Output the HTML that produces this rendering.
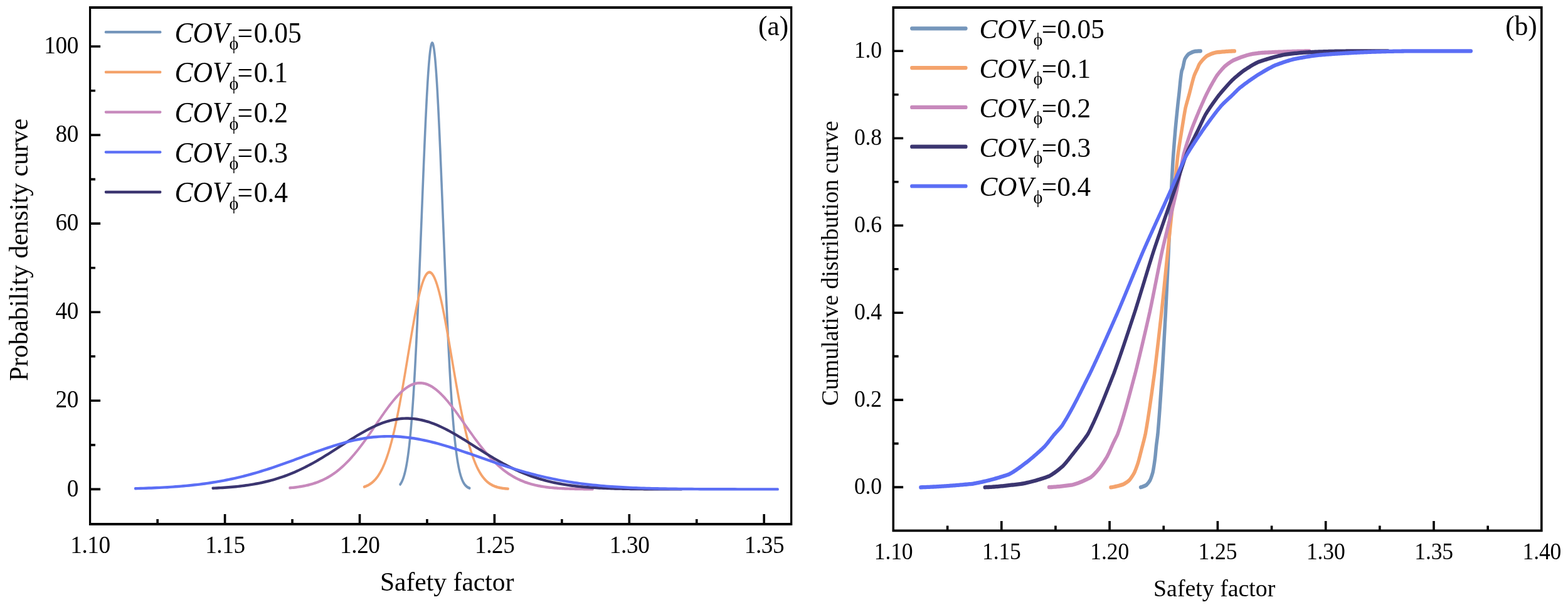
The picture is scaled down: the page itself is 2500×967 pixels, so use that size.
<!DOCTYPE html>
<html lang="en"><head><meta charset="utf-8"><title>Probability density and cumulative distribution curves of safety factor</title>
<style>
html,body{margin:0;padding:0;background:#fff;width:2500px;height:967px;}
svg{display:block;font-family:"Liberation Serif","DejaVu Serif",serif;fill:#000;}
</style></head><body>
<svg width="2500" height="967" viewBox="0 0 2500 967">
<rect width="2500" height="967" fill="#fff"/>
<g id="panel-a">
<path d="M797.62 771.62L798.2 770.96L798.78 770.26L799.35 769.5L799.93 768.68L800.5 767.81L801.08 766.88L801.66 765.88L802.23 764.81L802.81 763.67L803.38 762.45L803.96 761.15L804.54 759.77L805.11 758.29L805.69 756.73L806.26 755.06L806.84 753.29L807.42 751.42L807.99 749.43L808.57 747.32L809.14 745.09L809.72 742.73L810.3 740.24L810.87 737.61L811.45 734.84L812.02 731.92L812.6 728.84L813.18 725.61L813.75 722.2L814.33 718.63L814.9 714.89L815.48 710.96L816.05 706.85L816.63 702.54L817.21 698.04L817.78 693.35L818.36 688.44L818.93 683.33L819.51 678.01L820.09 672.47L820.66 666.71L821.24 660.72L821.81 654.52L822.39 648.08L822.97 641.41L823.54 634.52L824.12 627.38L824.69 620.02L825.27 612.42L825.85 604.59L826.42 596.53L827 588.23L827.57 579.71L828.15 570.96L828.73 561.98L829.3 552.79L829.88 543.38L830.45 533.77L831.03 523.95L831.61 513.93L832.18 503.72L832.76 493.33L833.33 482.77L833.91 472.04L834.49 461.16L835.06 450.14L835.64 438.99L836.21 427.72L836.79 416.34L837.37 404.87L837.94 393.32L838.52 381.71L839.09 370.06L839.67 358.37L840.25 346.67L840.82 334.96L841.4 323.28L841.97 311.64L842.55 300.05L843.13 288.54L843.7 277.12L844.28 265.81L844.85 254.64L845.43 243.62L846.01 232.76L846.58 222.1L847.16 211.65L847.73 201.43L848.31 191.46L848.89 181.76L849.46 172.35L850.04 163.24L850.61 154.45L851.19 146.01L851.77 137.92L852.34 130.21L852.92 122.89L853.49 115.98L854.07 109.49L854.65 103.43L855.22 97.82L855.8 92.67L856.37 87.99L856.95 83.79L857.53 80.08L858.1 76.87L858.68 74.17L859.25 71.97L859.83 70.29L860.41 69.13L860.98 68.49L861.56 68.38L862.13 68.78L862.71 69.68L863.29 71.1L863.86 73.02L864.44 75.44L865.01 78.36L865.59 81.77L866.16 85.66L866.74 90.02L867.32 94.85L867.89 100.13L868.47 105.85L869.04 112.01L869.62 118.58L870.2 125.56L870.77 132.93L871.35 140.68L871.92 148.78L872.5 157.23L873.08 166.01L873.65 175.1L874.23 184.48L874.8 194.14L875.38 204.05L875.96 214.2L876.53 224.57L877.11 235.15L877.68 245.9L878.26 256.82L878.84 267.88L879.41 279.06L879.99 290.36L880.56 301.74L881.14 313.19L881.72 324.69L882.29 336.23L882.87 347.79L883.44 359.35L884.02 370.89L884.6 382.39L885.17 393.86L885.75 405.26L886.32 416.58L886.9 427.81L887.48 438.94L888.05 449.96L888.63 460.84L889.2 471.59L889.78 482.19L890.36 492.63L890.93 502.9L891.51 513L892.08 522.91L892.66 532.63L893.24 542.15L893.81 551.47L894.39 560.58L894.96 569.48L895.54 578.16L896.12 586.62L896.69 594.85L897.27 602.87L897.84 610.65L898.42 618.21L899 625.54L899.57 632.64L900.15 639.51L900.72 646.16L901.3 652.58L901.88 658.78L902.45 664.76L903.03 670.52L903.6 676.07L904.18 681.4L904.76 686.53L905.33 691.45L905.91 696.17L906.48 700.69L907.06 705.02L907.64 709.17L908.21 713.13L908.79 716.91L909.36 720.51L909.94 723.95L910.52 727.23L911.09 730.35L911.67 733.31L912.24 736.13L912.82 738.8L913.4 741.34L913.97 743.74L914.55 746.02L915.12 748.17L915.7 750.2L916.27 752.13L916.85 753.94L917.43 755.65L918 757.26L918.58 758.78L919.15 760.2L919.73 761.54L920.31 762.8L920.88 763.98L921.46 765.09L922.03 766.13L922.61 767.1L923.19 768.01L923.76 768.86L924.34 769.65L924.91 770.39L925.49 771.08L926.07 771.72L926.64 772.32L927.22 772.87L927.79 773.39L928.37 773.87L928.95 774.31L929.52 774.73L930.1 775.11L930.67 775.46L931.25 775.79L931.83 776.09L932.4 776.37L932.98 776.63L933.55 776.87L934.13 777.09L934.71 777.29L935.28 777.47L935.86 777.64" transform="scale(0.8 1)" fill="none" stroke="#7596BB" stroke-width="4.45" stroke-linecap="round" stroke-linejoin="round"/>
<path d="M725.79 775.57L726.99 775.25L728.18 774.89L729.38 774.51L730.57 774.1L731.77 773.67L732.96 773.2L734.16 772.69L735.35 772.16L736.55 771.58L737.74 770.97L738.94 770.31L740.14 769.61L741.33 768.87L742.53 768.08L743.72 767.24L744.92 766.34L746.11 765.39L747.31 764.38L748.5 763.31L749.7 762.18L750.89 760.98L752.09 759.72L753.28 758.38L754.48 756.97L755.67 755.48L756.87 753.92L758.06 752.27L759.26 750.54L760.45 748.72L761.65 746.81L762.84 744.81L764.04 742.71L765.23 740.52L766.43 738.23L767.62 735.83L768.82 733.33L770.01 730.73L771.21 728.01L772.4 725.19L773.6 722.25L774.79 719.2L775.99 716.04L777.19 712.76L778.38 709.36L779.58 705.85L780.77 702.22L781.97 698.47L783.16 694.61L784.36 690.63L785.55 686.53L786.75 682.31L787.94 677.99L789.14 673.55L790.33 669L791.53 664.34L792.72 659.58L793.92 654.72L795.11 649.75L796.31 644.69L797.5 639.55L798.7 634.31L799.89 628.99L801.09 623.6L802.28 618.14L803.48 612.61L804.67 607.03L805.87 601.39L807.06 595.71L808.26 589.99L809.45 584.24L810.65 578.48L811.84 572.69L813.04 566.91L814.23 561.13L815.43 555.36L816.63 549.61L817.82 543.9L819.02 538.23L820.21 532.61L821.41 527.05L822.6 521.56L823.8 516.16L824.99 510.84L826.19 505.63L827.38 500.53L828.58 495.54L829.77 490.69L830.97 485.99L832.16 481.43L833.36 477.03L834.55 472.8L835.75 468.74L836.94 464.88L838.14 461.2L839.33 457.73L840.53 454.47L841.72 451.43L842.92 448.61L844.11 446.02L845.31 443.66L846.5 441.55L847.7 439.68L848.89 438.06L850.09 436.7L851.28 435.59L852.48 434.74L853.68 434.15L854.87 433.83L856.07 433.76L857.26 433.95L858.46 434.39L859.65 435.08L860.85 436.02L862.04 437.2L863.24 438.62L864.43 440.28L865.63 442.18L866.82 444.31L868.02 446.67L869.21 449.25L870.41 452.05L871.6 455.06L872.8 458.27L873.99 461.68L875.19 465.29L876.38 469.07L877.58 473.03L878.77 477.17L879.97 481.46L881.16 485.9L882.36 490.48L883.55 495.2L884.75 500.05L885.94 505.01L887.14 510.07L888.33 515.24L889.53 520.49L890.73 525.83L891.92 531.23L893.12 536.69L894.31 542.2L895.51 547.76L896.7 553.35L897.9 558.97L899.09 564.6L900.29 570.23L901.48 575.87L902.68 581.5L903.87 587.11L905.07 592.7L906.26 598.26L907.46 603.78L908.65 609.25L909.85 614.67L911.04 620.04L912.24 625.34L913.43 630.57L914.63 635.73L915.82 640.81L917.02 645.81L918.21 650.72L919.41 655.54L920.6 660.27L921.8 664.9L922.99 669.42L924.19 673.85L925.38 678.17L926.58 682.38L927.77 686.49L928.97 690.49L930.17 694.37L931.36 698.15L932.56 701.81L933.75 705.36L934.95 708.8L936.14 712.13L937.34 715.35L938.53 718.46L939.73 721.46L940.92 724.35L942.12 727.14L943.31 729.82L944.51 732.39L945.7 734.87L946.9 737.24L948.09 739.52L949.29 741.7L950.48 743.79L951.68 745.79L952.87 747.7L954.07 749.52L955.26 751.25L956.46 752.91L957.65 754.49L958.85 755.98L960.04 757.41L961.24 758.76L962.43 760.05L963.63 761.26L964.82 762.42L966.02 763.51L967.22 764.54L968.41 765.51L969.61 766.43L970.8 767.3L972 768.12L973.19 768.89L974.39 769.62L975.58 770.3L976.78 770.94L977.97 771.54L979.17 772.1L980.36 772.63L981.56 773.12L982.75 773.59L983.95 774.02L985.14 774.42L986.34 774.8L987.53 775.15L988.73 775.48L989.92 775.78L991.12 776.07L992.31 776.33L993.51 776.57L994.7 776.8L995.9 777.01L997.09 777.21L998.29 777.39L999.48 777.55L1000.68 777.71L1001.87 777.85L1003.07 777.98L1004.27 778.1L1005.46 778.22L1006.66 778.32L1007.85 778.41L1009.05 778.5L1010.24 778.58L1011.44 778.65L1012.63 778.72" transform="scale(0.8 1)" fill="none" stroke="#F4A36C" stroke-width="4.45" stroke-linecap="round" stroke-linejoin="round"/>
<path d="M577.62 777.27L580.14 777.08L582.65 776.88L585.17 776.66L587.68 776.43L590.2 776.18L592.71 775.91L595.23 775.62L597.75 775.31L600.26 774.97L602.78 774.62L605.29 774.24L607.81 773.84L610.32 773.4L612.84 772.95L615.35 772.46L617.87 771.94L620.39 771.38L622.9 770.8L625.42 770.18L627.93 769.52L630.45 768.82L632.96 768.09L635.48 767.31L638 766.49L640.51 765.63L643.03 764.72L645.54 763.76L648.06 762.76L650.57 761.7L653.09 760.6L655.61 759.44L658.12 758.22L660.64 756.96L663.15 755.63L665.67 754.25L668.18 752.81L670.7 751.31L673.22 749.75L675.73 748.13L678.25 746.45L680.76 744.7L683.28 742.9L685.79 741.03L688.31 739.1L690.83 737.11L693.34 735.05L695.86 732.94L698.37 730.76L700.89 728.52L703.4 726.23L705.92 723.88L708.43 721.47L710.95 719L713.47 716.48L715.98 713.92L718.5 711.3L721.01 708.64L723.53 705.93L726.04 703.18L728.56 700.4L731.08 697.58L733.59 694.73L736.11 691.86L738.62 688.96L741.14 686.04L743.65 683.11L746.17 680.16L748.69 677.21L751.2 674.27L753.72 671.32L756.23 668.38L758.75 665.46L761.26 662.56L763.78 659.68L766.3 656.84L768.81 654.02L771.33 651.25L773.84 648.53L776.36 645.86L778.87 643.25L781.39 640.7L783.9 638.22L786.42 635.81L788.94 633.49L791.45 631.24L793.97 629.09L796.48 627.03L799 625.07L801.51 623.22L804.03 621.47L806.55 619.84L809.06 618.32L811.58 616.92L814.09 615.64L816.61 614.49L819.12 613.47L821.64 612.58L824.16 611.83L826.67 611.21L829.19 610.72L831.7 610.38L834.22 610.17L836.73 610.1L839.25 610.17L841.77 610.37L844.28 610.7L846.8 611.16L849.31 611.75L851.83 612.47L854.34 613.31L856.86 614.28L859.38 615.37L861.89 616.58L864.41 617.91L866.92 619.34L869.44 620.89L871.95 622.55L874.47 624.31L876.98 626.17L879.5 628.12L882.02 630.17L884.53 632.3L887.05 634.51L889.56 636.8L892.08 639.17L894.59 641.6L897.11 644.1L899.63 646.65L902.14 649.25L904.66 651.91L907.17 654.61L909.69 657.34L912.2 660.11L914.72 662.9L917.24 665.72L919.75 668.56L922.27 671.41L924.78 674.26L927.3 677.12L929.81 679.99L932.33 682.84L934.85 685.69L937.36 688.52L939.88 691.34L942.39 694.13L944.91 696.9L947.42 699.65L949.94 702.36L952.46 705.03L954.97 707.67L957.49 710.27L960 712.83L962.52 715.34L965.03 717.81L967.55 720.22L970.06 722.59L972.58 724.9L975.1 727.16L977.61 729.37L980.13 731.52L982.64 733.61L985.16 735.65L987.67 737.62L990.19 739.54L992.71 741.4L995.22 743.2L997.74 744.95L1000.25 746.63L1002.77 748.26L1005.28 749.83L1007.8 751.34L1010.32 752.79L1012.83 754.19L1015.35 755.53L1017.86 756.82L1020.38 758.06L1022.89 759.25L1025.41 760.38L1027.93 761.46L1030.44 762.5L1032.96 763.49L1035.47 764.43L1037.99 765.32L1040.5 766.18L1043.02 766.99L1045.54 767.76L1048.05 768.49L1050.57 769.18L1053.08 769.84L1055.6 770.46L1058.11 771.05L1060.63 771.6L1063.14 772.13L1065.66 772.62L1068.18 773.09L1070.69 773.53L1073.21 773.94L1075.72 774.32L1078.24 774.69L1080.75 775.03L1083.27 775.35L1085.79 775.64L1088.3 775.92L1090.82 776.19L1093.33 776.43L1095.85 776.66L1098.36 776.87L1100.88 777.07L1103.4 777.25L1105.91 777.42L1108.43 777.58L1110.94 777.73L1113.46 777.86L1115.97 777.99L1118.49 778.11L1121.01 778.21L1123.52 778.31L1126.04 778.41L1128.55 778.49L1131.07 778.57L1133.58 778.64L1136.1 778.71L1138.61 778.77L1141.13 778.83L1143.65 778.88L1146.16 778.93L1148.68 778.97L1151.19 779.01L1153.71 779.05L1156.22 779.08L1158.74 779.11L1161.26 779.14L1163.77 779.16L1166.29 779.18L1168.8 779.21L1171.32 779.22L1173.83 779.24L1176.35 779.26L1178.87 779.27L1181.38 779.28" transform="scale(0.8 1)" fill="none" stroke="#C789BC" stroke-width="4.45" stroke-linecap="round" stroke-linejoin="round"/>
<path d="M424.02 777.79L427.91 777.65L431.81 777.49L435.7 777.33L439.59 777.15L443.49 776.96L447.38 776.75L451.27 776.53L455.16 776.29L459.06 776.04L462.95 775.77L466.84 775.48L470.74 775.18L474.63 774.85L478.52 774.5L482.42 774.13L486.31 773.73L490.2 773.31L494.09 772.87L497.99 772.4L501.88 771.9L505.77 771.37L509.67 770.82L513.56 770.23L517.45 769.61L521.35 768.96L525.24 768.27L529.13 767.55L533.03 766.8L536.92 766.01L540.81 765.17L544.7 764.31L548.6 763.4L552.49 762.45L556.38 761.46L560.28 760.43L564.17 759.36L568.06 758.24L571.96 757.09L575.85 755.89L579.74 754.64L583.63 753.36L587.53 752.03L591.42 750.65L595.31 749.24L599.21 747.78L603.1 746.28L606.99 744.74L610.89 743.15L614.78 741.53L618.67 739.87L622.57 738.17L626.46 736.44L630.35 734.67L634.24 732.87L638.14 731.03L642.03 729.17L645.92 727.29L649.82 725.37L653.71 723.44L657.6 721.48L661.5 719.51L665.39 717.53L669.28 715.53L673.18 713.53L677.07 711.52L680.96 709.52L684.85 707.51L688.75 705.51L692.64 703.52L696.53 701.55L700.43 699.59L704.32 697.65L708.21 695.74L712.11 693.85L716 692L719.89 690.19L723.78 688.41L727.68 686.68L731.57 685L735.46 683.37L739.36 681.8L743.25 680.29L747.14 678.84L751.04 677.45L754.93 676.14L758.82 674.9L762.72 673.73L766.61 672.65L770.5 671.65L774.39 670.73L778.29 669.89L782.18 669.15L786.07 668.49L789.97 667.93L793.86 667.46L797.75 667.09L801.65 666.81L805.54 666.63L809.43 666.54L813.32 666.55L817.22 666.66L821.11 666.86L825 667.15L828.9 667.54L832.79 668.01L836.68 668.58L840.58 669.24L844.47 669.98L848.36 670.81L852.26 671.72L856.15 672.72L860.04 673.79L863.93 674.94L867.83 676.16L871.72 677.45L875.61 678.81L879.51 680.24L883.4 681.73L887.29 683.27L891.19 684.87L895.08 686.52L898.97 688.22L902.86 689.96L906.76 691.74L910.65 693.55L914.54 695.4L918.44 697.28L922.33 699.18L926.22 701.11L930.12 703.05L934.01 705L937.9 706.97L941.8 708.94L945.69 710.92L949.58 712.89L953.47 714.86L957.37 716.83L961.26 718.79L965.15 720.73L969.05 722.66L972.94 724.57L976.83 726.47L980.73 728.33L984.62 730.18L988.51 731.99L992.41 733.78L996.3 735.54L1000.19 737.26L1004.08 738.95L1007.98 740.61L1011.87 742.23L1015.76 743.81L1019.66 745.35L1023.55 746.85L1027.44 748.31L1031.34 749.73L1035.23 751.11L1039.12 752.45L1043.01 753.75L1046.91 755L1050.8 756.21L1054.69 757.38L1058.59 758.51L1062.48 759.6L1066.37 760.64L1070.27 761.65L1074.16 762.62L1078.05 763.54L1081.95 764.43L1085.84 765.28L1089.73 766.09L1093.62 766.87L1097.52 767.61L1101.41 768.32L1105.3 768.99L1109.2 769.63L1113.09 770.24L1116.98 770.81L1120.88 771.36L1124.77 771.88L1128.66 772.37L1132.55 772.84L1136.45 773.28L1140.34 773.69L1144.23 774.08L1148.13 774.45L1152.02 774.8L1155.91 775.12L1159.81 775.43L1163.7 775.72L1167.59 775.99L1171.49 776.24L1175.38 776.47L1179.27 776.7L1183.16 776.9L1187.06 777.09L1190.95 777.27L1194.84 777.44L1198.74 777.6L1202.63 777.74L1206.52 777.87L1210.42 778L1214.31 778.11L1218.2 778.22L1222.09 778.32L1225.99 778.41L1229.88 778.5L1233.77 778.57L1237.67 778.65L1241.56 778.71L1245.45 778.77L1249.35 778.83L1253.24 778.88L1257.13 778.93L1261.03 778.97L1264.92 779.01L1268.81 779.05L1272.7 779.08L1276.6 779.11L1280.49 779.14L1284.38 779.16L1288.28 779.19L1292.17 779.21L1296.06 779.23L1299.96 779.24L1303.85 779.26L1307.74 779.27L1311.63 779.29L1315.53 779.3L1319.42 779.31L1323.31 779.32L1327.21 779.33L1331.1 779.33L1334.99 779.34L1338.89 779.35L1342.78 779.35L1346.67 779.36L1350.57 779.36L1354.46 779.37L1358.35 779.37" transform="scale(0.8 1)" fill="none" stroke="#3B3570" stroke-width="4.45" stroke-linecap="round" stroke-linejoin="round"/>
<path d="M269.61 778.23L274.95 778.12L280.29 778L285.62 777.87L290.96 777.73L296.29 777.58L301.63 777.41L306.96 777.24L312.3 777.05L317.63 776.85L322.97 776.63L328.31 776.4L333.64 776.16L338.98 775.89L344.31 775.61L349.65 775.31L354.98 774.98L360.32 774.64L365.65 774.28L370.99 773.89L376.33 773.48L381.66 773.05L387 772.59L392.33 772.1L397.67 771.59L403 771.05L408.34 770.48L413.67 769.88L419.01 769.25L424.35 768.58L429.68 767.89L435.02 767.16L440.35 766.4L445.69 765.61L451.02 764.78L456.36 763.91L461.69 763.01L467.03 762.08L472.37 761.11L477.7 760.1L483.04 759.06L488.37 757.98L493.71 756.86L499.04 755.71L504.38 754.53L509.71 753.31L515.05 752.05L520.39 750.77L525.72 749.45L531.06 748.1L536.39 746.73L541.73 745.32L547.06 743.89L552.4 742.43L557.73 740.95L563.07 739.45L568.41 737.93L573.74 736.4L579.08 734.84L584.41 733.28L589.75 731.71L595.08 730.13L600.42 728.55L605.75 726.97L611.09 725.39L616.43 723.82L621.76 722.25L627.1 720.7L632.43 719.17L637.77 717.65L643.1 716.15L648.44 714.68L653.77 713.24L659.11 711.83L664.45 710.46L669.78 709.13L675.12 707.84L680.45 706.6L685.79 705.4L691.12 704.26L696.46 703.17L701.8 702.15L707.13 701.18L712.47 700.27L717.8 699.44L723.14 698.67L728.47 697.97L733.81 697.34L739.14 696.79L744.48 696.32L749.82 695.92L755.15 695.6L760.49 695.36L765.82 695.2L771.16 695.11L776.49 695.11L781.83 695.19L787.16 695.33L792.5 695.55L797.84 695.84L803.17 696.2L808.51 696.63L813.84 697.13L819.18 697.69L824.51 698.33L829.85 699.02L835.18 699.78L840.52 700.6L845.86 701.48L851.19 702.42L856.53 703.41L861.86 704.45L867.2 705.54L872.53 706.68L877.87 707.87L883.2 709.09L888.54 710.35L893.88 711.65L899.21 712.98L904.55 714.35L909.88 715.74L915.22 717.15L920.55 718.58L925.89 720.04L931.22 721.5L936.56 722.98L941.9 724.47L947.23 725.97L952.57 727.47L957.9 728.97L963.24 730.47L968.57 731.97L973.91 733.46L979.24 734.94L984.58 736.42L989.92 737.88L995.25 739.32L1000.59 740.75L1005.92 742.16L1011.26 743.54L1016.59 744.91L1021.93 746.25L1027.26 747.57L1032.6 748.86L1037.94 750.13L1043.27 751.36L1048.61 752.57L1053.94 753.75L1059.28 754.9L1064.61 756.01L1069.95 757.1L1075.28 758.15L1080.62 759.17L1085.96 760.16L1091.29 761.11L1096.63 762.04L1101.96 762.93L1107.3 763.79L1112.63 764.61L1117.97 765.41L1123.3 766.17L1128.64 766.9L1133.98 767.61L1139.31 768.28L1144.65 768.92L1149.98 769.54L1155.32 770.12L1160.65 770.68L1165.99 771.21L1171.32 771.72L1176.66 772.2L1182 772.66L1187.33 773.09L1192.67 773.5L1198 773.89L1203.34 774.26L1208.67 774.61L1214.01 774.93L1219.34 775.24L1224.68 775.53L1230.02 775.81L1235.35 776.06L1240.69 776.31L1246.02 776.53L1251.36 776.74L1256.69 776.94L1262.03 777.13L1267.36 777.3L1272.7 777.46L1278.04 777.61L1283.37 777.76L1288.71 777.89L1294.04 778.01L1299.38 778.12L1304.71 778.23L1310.05 778.32L1315.38 778.41L1320.72 778.5L1326.06 778.57L1331.39 778.64L1336.73 778.71L1342.06 778.77L1347.4 778.83L1352.73 778.88L1358.07 778.92L1363.41 778.97L1368.74 779.01L1374.08 779.04L1379.41 779.08L1384.75 779.11L1390.08 779.13L1395.42 779.16L1400.75 779.18L1406.09 779.2L1411.43 779.22L1416.76 779.24L1422.1 779.26L1427.43 779.27L1432.77 779.28L1438.1 779.3L1443.44 779.31L1448.77 779.32L1454.11 779.32L1459.45 779.33L1464.78 779.34L1470.12 779.35L1475.45 779.35L1480.79 779.36L1486.12 779.36L1491.46 779.37L1496.79 779.37L1502.13 779.37L1507.47 779.38L1512.8 779.38L1518.14 779.38L1523.47 779.38L1528.81 779.39L1534.14 779.39L1539.48 779.39L1544.81 779.39L1550.15 779.39" transform="scale(0.8 1)" fill="none" stroke="#5B6EF5" stroke-width="4.45" stroke-linecap="round" stroke-linejoin="round"/>
<path d="M141.95 9.9H1263.3V13.9H141.95ZM141.95 832.9H1263.3V836.9H141.95ZM141.95 9.9H145.2V836.9H141.95ZM1260 9.9H1263.3V836.9H1260ZM356.8 819H360.4V833.4H356.8ZM571.7 819H575.3V833.4H571.7ZM786.6 819H790.2V833.4H786.6ZM1001.5 819H1005.1V833.4H1001.5ZM1216.4 819H1220V833.4H1216.4ZM249.35 826.9H252.95V833.4H249.35ZM464.25 826.9H467.85V833.4H464.25ZM679.15 826.9H682.75V833.4H679.15ZM894.05 826.9H897.65V833.4H894.05ZM1108.95 826.9H1112.55V833.4H1108.95ZM144.7 777.6H160.1V781.2H144.7ZM144.7 636.52H160.1V640.12H144.7ZM144.7 495.44H160.1V499.04H144.7ZM144.7 354.36H160.1V357.96H144.7ZM144.7 213.28H160.1V216.88H144.7ZM144.7 72.2H160.1V75.8H144.7ZM144.7 707.06H152V710.66H144.7ZM144.7 565.98H152V569.58H144.7ZM144.7 424.9H152V428.5H144.7ZM144.7 283.82H152V287.42H144.7ZM144.7 142.74H152V146.34H144.7Z" fill="#000"/>
<text transform="translate(144 880.7) scale(0.955 1)" font-size="39.0" text-anchor="middle" letter-spacing="-0.45">1.10</text>
<text transform="translate(358.9 880.7) scale(0.955 1)" font-size="39.0" text-anchor="middle" letter-spacing="-0.45">1.15</text>
<text transform="translate(573.8 880.7) scale(0.955 1)" font-size="39.0" text-anchor="middle" letter-spacing="-0.45">1.20</text>
<text transform="translate(788.7 880.7) scale(0.955 1)" font-size="39.0" text-anchor="middle" letter-spacing="-0.45">1.25</text>
<text transform="translate(1003.6 880.7) scale(0.955 1)" font-size="39.0" text-anchor="middle" letter-spacing="-0.45">1.30</text>
<text transform="translate(1218.5 880.7) scale(0.955 1)" font-size="39.0" text-anchor="middle" letter-spacing="-0.45">1.35</text>
<text transform="translate(124.9 790.5) scale(0.955 1)" font-size="39.0" text-anchor="end" letter-spacing="-0.45">0</text>
<text transform="translate(124.9 649.42) scale(0.955 1)" font-size="39.0" text-anchor="end" letter-spacing="-0.45">20</text>
<text transform="translate(124.9 508.34) scale(0.955 1)" font-size="39.0" text-anchor="end" letter-spacing="-0.45">40</text>
<text transform="translate(124.9 367.26) scale(0.955 1)" font-size="39.0" text-anchor="end" letter-spacing="-0.45">60</text>
<text transform="translate(124.9 226.18) scale(0.955 1)" font-size="39.0" text-anchor="end" letter-spacing="-0.45">80</text>
<text transform="translate(124.9 85.1) scale(0.955 1)" font-size="39.0" text-anchor="end" letter-spacing="-0.45">100</text>
<text transform="translate(712.7 940.6)" font-size="41.6" text-anchor="middle">Safety factor</text>
<text transform="translate(43.7 398) rotate(-90)" font-size="41.6" text-anchor="middle">Probability density curve</text>
<text transform="translate(1209 56.4) scale(0.985 1)" font-size="44.0" text-anchor="start">(a)</text>
<path d="M210.62 51.2L319.62 51.2" transform="scale(0.8 1)" fill="none" stroke="#7596BB" stroke-width="4.3" stroke-linecap="round" stroke-linejoin="round"/>
<text transform="translate(278.4 67.6) scale(0.9385 1)" font-size="46.4"><tspan font-style="italic">COV</tspan><tspan font-size="30" dx="0" dy="11.5">ϕ</tspan><tspan dx="-2.0" dy="-11.5">=</tspan><tspan dx="1.8">0.05</tspan></text>
<path d="M210.62 114.9L319.62 114.9" transform="scale(0.8 1)" fill="none" stroke="#F4A36C" stroke-width="4.3" stroke-linecap="round" stroke-linejoin="round"/>
<text transform="translate(278.4 131.3) scale(0.9385 1)" font-size="46.4"><tspan font-style="italic">COV</tspan><tspan font-size="30" dx="0" dy="11.5">ϕ</tspan><tspan dx="-2.0" dy="-11.5">=</tspan><tspan dx="1.8">0.1</tspan></text>
<path d="M210.62 178.6L319.62 178.6" transform="scale(0.8 1)" fill="none" stroke="#C789BC" stroke-width="4.3" stroke-linecap="round" stroke-linejoin="round"/>
<text transform="translate(278.4 195) scale(0.9385 1)" font-size="46.4"><tspan font-style="italic">COV</tspan><tspan font-size="30" dx="0" dy="11.5">ϕ</tspan><tspan dx="-2.0" dy="-11.5">=</tspan><tspan dx="1.8">0.2</tspan></text>
<path d="M210.62 242.3L319.62 242.3" transform="scale(0.8 1)" fill="none" stroke="#5B6EF5" stroke-width="4.3" stroke-linecap="round" stroke-linejoin="round"/>
<text transform="translate(278.4 258.7) scale(0.9385 1)" font-size="46.4"><tspan font-style="italic">COV</tspan><tspan font-size="30" dx="0" dy="11.5">ϕ</tspan><tspan dx="-2.0" dy="-11.5">=</tspan><tspan dx="1.8">0.3</tspan></text>
<path d="M210.62 306L319.62 306" transform="scale(0.8 1)" fill="none" stroke="#3B3570" stroke-width="4.3" stroke-linecap="round" stroke-linejoin="round"/>
<text transform="translate(278.4 322.4) scale(0.9385 1)" font-size="46.4"><tspan font-style="italic">COV</tspan><tspan font-size="30" dx="0" dy="11.5">ϕ</tspan><tspan dx="-2.0" dy="-11.5">=</tspan><tspan dx="1.8">0.4</tspan></text>
</g>
<g id="panel-b">
<path d="M2078.4 776.3L2080.7 775.75L2082.92 775.08L2085.04 774.32L2087.07 773.48L2088.57 772.8L2088.92 772.53L2090.49 771.15L2092 769.61L2093.43 767.97L2094.75 766.29L2095.54 765.2L2095.85 764.58L2096.71 762.76L2097.53 760.9L2098.3 759L2099.03 757.08L2099.72 755.15L2100.36 753.22L2100.69 752.2L2100.89 751.29L2101.31 749.33L2101.71 747.37L2102.1 745.4L2102.47 743.43L2102.83 741.45L2103.17 739.46L2103.51 737.48L2103.83 735.5L2104.15 733.51L2104.46 731.53L2104.69 730.1L2104.76 729.54L2105 727.56L2105.24 725.57L2105.46 723.58L2105.68 721.59L2105.9 719.6L2106.12 717.6L2106.34 715.61L2106.56 713.62L2106.79 711.63L2106.97 710.1L2107.03 709.64L2107.31 707.66L2107.6 705.67L2107.89 703.69L2108.19 701.71L2108.49 699.72L2108.79 697.74L2109.07 695.76L2109.35 693.77L2109.62 691.79L2109.71 691L2109.83 689.8L2110.03 687.8L2110.22 685.81L2110.41 683.82L2110.6 681.83L2110.79 679.84L2110.97 677.84L2111.16 675.85L2111.34 673.86L2111.52 671.86L2111.69 669.87L2111.87 667.88L2112.04 665.88L2112.22 663.89L2112.39 661.9L2112.56 659.9L2112.72 657.91L2112.89 655.91L2113.05 653.92L2113.22 651.92L2113.38 649.93L2113.54 647.93L2113.7 645.93L2113.86 643.94L2114.02 641.94L2114.17 639.95L2114.33 637.95L2114.49 635.96L2114.64 633.96L2114.79 631.96L2114.95 629.97L2115.1 627.97L2115.25 625.98L2115.41 623.98L2115.56 621.98L2115.71 619.99L2115.86 617.99L2116.01 615.99L2116.16 614L2116.31 612L2116.46 610.01L2116.61 608.01L2116.76 606.01L2116.91 604.02L2117.07 602.02L2117.22 600.03L2117.37 598.03L2117.52 596.04L2117.6 595L2117.67 594.04L2117.81 592.04L2117.94 590.05L2118.08 588.05L2118.22 586.06L2118.36 584.06L2118.49 582.06L2118.63 580.07L2118.77 578.07L2118.9 576.07L2119.04 574.08L2119.17 572.08L2119.3 570.08L2119.44 568.09L2119.57 566.09L2119.7 564.09L2119.84 562.1L2119.97 560.1L2120.1 558.1L2120.23 556.11L2120.36 554.11L2120.5 552.11L2120.63 550.12L2120.76 548.12L2120.89 546.12L2121.02 544.13L2121.15 542.13L2121.27 540.13L2121.4 538.14L2121.53 536.14L2121.66 534.14L2121.79 532.15L2121.92 530.15L2122.04 528.15L2122.17 526.15L2122.3 524.16L2122.42 522.16L2122.55 520.16L2122.68 518.17L2122.8 516.17L2122.93 514.17L2123.05 512.18L2123.18 510.18L2123.3 508.18L2123.43 506.18L2123.55 504.19L2123.68 502.19L2123.8 500.19L2123.93 498.2L2124 497L2124.05 496.2L2124.16 494.2L2124.28 492.2L2124.39 490.21L2124.51 488.21L2124.62 486.21L2124.74 484.21L2124.85 482.22L2124.96 480.22L2125.08 478.22L2125.19 476.22L2125.3 474.23L2125.42 472.23L2125.53 470.23L2125.64 468.23L2125.75 466.24L2125.86 464.24L2125.98 462.24L2126.09 460.24L2126.2 458.25L2126.31 456.25L2126.42 454.25L2126.53 452.25L2126.64 450.26L2126.75 448.26L2126.86 446.26L2126.97 444.26L2127.08 442.26L2127.19 440.27L2127.3 438.27L2127.41 436.27L2127.52 434.27L2127.62 432.28L2127.73 430.28L2127.84 428.28L2127.95 426.28L2128.06 424.29L2128.17 422.29L2128.28 420.29L2128.38 418.29L2128.49 416.29L2128.6 414.3L2128.71 412.3L2128.82 410.3L2128.92 408.3L2129.03 406.31L2129.14 404.31L2129.25 402.31L2129.35 400.31L2129.37 400L2129.46 398.31L2129.56 396.32L2129.66 394.32L2129.77 392.32L2129.87 390.32L2129.97 388.32L2130.07 386.33L2130.17 384.33L2130.27 382.33L2130.37 380.33L2130.47 378.33L2130.57 376.34L2130.67 374.34L2130.77 372.34L2130.87 370.34L2130.97 368.34L2131.07 366.34L2131.17 364.35L2131.26 362.35L2131.36 360.35L2131.46 358.35L2131.56 356.35L2131.66 354.36L2131.76 352.36L2131.86 350.36L2131.95 348.36L2132.05 346.36L2132.15 344.36L2132.25 342.37L2132.35 340.37L2132.45 338.37L2132.55 336.37L2132.65 334.37L2132.75 332.38L2132.85 330.38L2132.95 328.38L2133.06 326.38L2133.16 324.38L2133.26 322.39L2133.36 320.39L2133.47 318.39L2133.57 316.39L2133.68 314.39L2133.78 312.4L2133.89 310.4L2133.99 308.4L2134.1 306.4L2134.21 304.41L2134.29 303L2134.32 302.41L2134.44 300.41L2134.56 298.41L2134.68 296.42L2134.8 294.42L2134.92 292.42L2135.04 290.42L2135.16 288.43L2135.28 286.43L2135.41 284.43L2135.53 282.44L2135.65 280.44L2135.78 278.44L2135.9 276.44L2136.03 274.45L2136.16 272.45L2136.29 270.45L2136.42 268.46L2136.55 266.46L2136.68 264.46L2136.81 262.47L2136.95 260.47L2137.09 258.47L2137.22 256.48L2137.26 256L2137.38 254.48L2137.54 252.49L2137.7 250.49L2137.87 248.5L2138.04 246.5L2138.2 244.51L2138.37 242.52L2138.55 240.52L2138.72 238.53L2138.89 236.53L2139.07 234.54L2139.25 232.54L2139.43 230.55L2139.61 228.56L2139.79 226.56L2139.97 224.57L2140.15 222.57L2140.34 220.58L2140.52 218.59L2140.71 216.59L2140.9 214.6L2141.08 212.61L2141.27 210.61L2141.46 208.62L2141.65 206.63L2141.71 206L2141.86 204.64L2142.07 202.65L2142.29 200.66L2142.51 198.66L2142.72 196.67L2142.95 194.68L2143.17 192.69L2143.39 190.7L2143.62 188.71L2143.85 186.72L2144.07 184.73L2144.3 182.74L2144.53 180.75L2144.77 178.76L2145 176.77L2145.23 174.78L2145.47 172.79L2145.71 170.8L2145.94 168.81L2146.18 166.83L2146.4 165L2146.42 164.84L2146.68 162.85L2146.94 160.86L2147.2 158.88L2147.46 156.89L2147.73 154.9L2147.99 152.92L2148.11 152L2148.25 150.93L2148.5 148.94L2148.75 146.94L2148.98 144.95L2149.21 142.95L2149.43 140.95L2149.66 138.94L2149.88 136.94L2150.11 134.94L2150.33 132.94L2150.57 130.94L2150.81 128.95L2151.06 126.96L2151.32 124.97L2151.6 122.99L2151.89 121.01L2152.19 119.04L2152.51 117.08L2152.86 115.12L2153.22 113.18L2153.26 113L2153.94 111.29L2154.8 109.43L2154.97 109L2155.42 107.5L2155.94 105.54L2156.41 103.55L2156.88 101.56L2157.35 99.59L2157.85 97.64L2158.41 95.73L2158.97 94.1L2159.1 93.9L2160.24 92.19L2161.54 90.48L2162.97 88.83L2164.48 87.3L2165.83 86.1L2166.05 85.98L2167.98 85.03L2170.04 84.11L2172.19 83.27L2174.38 82.53L2176.56 81.95L2177.26 81.8L2178.77 81.7L2181.03 81.56L2183.31 81.44L2185.62 81.35L2187.66 81.3" transform="scale(0.875 1)" fill="none" stroke="#7596BB" stroke-width="6.3" stroke-linecap="round" stroke-linejoin="round"/>
<path d="M2024 776.3L2026.33 776.06L2028.64 775.75L2030.92 775.38L2033.18 774.96L2035.42 774.5L2037.63 774L2039.82 773.47L2041.99 772.92L2044.14 772.35L2046.17 771.8L2046.26 771.76L2048.25 770.86L2050.24 769.84L2052.2 768.74L2054.11 767.57L2055.95 766.36L2057.6 765.2L2057.67 765.12L2059.09 763.62L2060.46 762.04L2061.79 760.39L2063.08 758.7L2064.32 756.98L2065.51 755.25L2066.65 753.52L2066.86 753.2L2067.59 751.73L2068.46 749.89L2069.31 748.03L2070.12 746.16L2070.91 744.27L2071.69 742.38L2072.44 740.48L2073.18 738.58L2073.71 737.2L2073.88 736.69L2074.51 734.76L2075.11 732.84L2075.7 730.91L2076.27 728.97L2076.84 727.03L2077.4 725.09L2077.96 723.15L2078.52 721.21L2079.08 719.27L2079.43 718.1L2079.65 717.33L2080.22 715.39L2080.8 713.46L2081.38 711.52L2081.96 709.58L2082.53 707.65L2083.11 705.71L2083.68 703.77L2084.25 701.83L2084.81 699.89L2085.36 697.95L2085.89 696.01L2086.41 694.06L2086.92 692.12L2087.2 691L2087.37 690.16L2087.76 688.2L2088.16 686.23L2088.54 684.26L2088.92 682.29L2089.3 680.32L2089.68 678.35L2090.05 676.38L2090.42 674.41L2090.79 672.44L2091.15 670.47L2091.51 668.49L2091.87 666.52L2092.22 664.54L2092.57 662.57L2092.92 660.59L2093.26 658.61L2093.61 656.64L2093.95 654.66L2094.29 652.68L2094.62 650.7L2094.96 648.72L2095.29 646.74L2095.62 644.76L2095.95 642.78L2096.27 640.8L2096.6 638.81L2096.92 636.83L2097.24 634.85L2097.56 632.87L2097.88 630.89L2098.2 628.9L2098.52 626.92L2098.83 624.94L2099.15 622.96L2099.46 620.97L2099.77 618.99L2100.09 617.01L2100.4 615.02L2100.71 613.04L2101.02 611.06L2101.33 609.08L2101.64 607.09L2101.95 605.11L2102.26 603.13L2102.58 601.15L2102.89 599.17L2103.2 597.18L2103.51 595.2L2103.54 595L2103.8 593.22L2104.08 591.24L2104.36 589.25L2104.64 587.27L2104.92 585.28L2105.19 583.3L2105.47 581.31L2105.75 579.33L2106.02 577.34L2106.29 575.36L2106.57 573.37L2106.84 571.38L2107.11 569.4L2107.38 567.41L2107.65 565.43L2107.92 563.44L2108.18 561.45L2108.45 559.47L2108.72 557.48L2108.98 555.49L2109.25 553.51L2109.51 551.52L2109.77 549.53L2110.04 547.55L2110.3 545.56L2110.56 543.57L2110.82 541.59L2111.08 539.6L2111.34 537.61L2111.6 535.62L2111.86 533.64L2112.12 531.65L2112.38 529.66L2112.63 527.67L2112.89 525.69L2113.15 523.7L2113.4 521.71L2113.66 519.72L2113.92 517.74L2114.17 515.75L2114.43 513.76L2114.68 511.77L2114.94 509.79L2115.19 507.8L2115.45 505.81L2115.7 503.82L2115.95 501.84L2116.21 499.85L2116.46 497.86L2116.57 497L2116.71 495.87L2116.95 493.88L2117.19 491.9L2117.43 489.91L2117.66 487.92L2117.9 485.93L2118.14 483.94L2118.37 481.95L2118.61 479.96L2118.84 477.97L2119.08 475.98L2119.31 473.99L2119.55 472L2119.78 470.01L2120.01 468.02L2120.24 466.03L2120.47 464.04L2120.7 462.05L2120.94 460.06L2121.17 458.07L2121.4 456.08L2121.63 454.09L2121.86 452.1L2122.09 450.11L2122.31 448.12L2122.54 446.13L2122.77 444.14L2123 442.15L2123.23 440.16L2123.46 438.17L2123.69 436.18L2123.92 434.19L2124.15 432.2L2124.38 430.21L2124.61 428.23L2124.83 426.24L2125.06 424.25L2125.29 422.26L2125.52 420.27L2125.75 418.28L2125.98 416.29L2126.22 414.3L2126.45 412.31L2126.68 410.32L2126.91 408.33L2127.14 406.34L2127.38 404.35L2127.61 402.36L2127.84 400.37L2127.89 400L2128.08 398.38L2128.32 396.39L2128.55 394.4L2128.79 392.41L2129.03 390.42L2129.27 388.43L2129.5 386.44L2129.74 384.45L2129.98 382.47L2130.22 380.48L2130.46 378.49L2130.7 376.5L2130.93 374.51L2131.17 372.52L2131.41 370.53L2131.65 368.54L2131.89 366.55L2132.13 364.56L2132.37 362.58L2132.61 360.59L2132.85 358.6L2133.08 356.61L2133.32 354.62L2133.56 352.63L2133.8 350.64L2134.04 348.65L2134.28 346.66L2134.52 344.67L2134.76 342.69L2135 340.7L2135.24 338.71L2135.48 336.72L2135.72 334.73L2135.96 332.74L2136.2 330.75L2136.44 328.76L2136.68 326.77L2136.92 324.78L2137.16 322.8L2137.4 320.81L2137.64 318.82L2137.88 316.83L2138.12 314.84L2138.36 312.85L2138.6 310.86L2138.84 308.87L2139.08 306.88L2139.31 304.89L2139.54 303L2139.55 302.91L2139.79 300.92L2140.03 298.93L2140.26 296.94L2140.5 294.95L2140.73 292.96L2140.96 290.97L2141.19 288.98L2141.42 286.99L2141.65 285L2141.88 283.01L2142.11 281.02L2142.34 279.03L2142.57 277.04L2142.8 275.05L2143.04 273.06L2143.27 271.07L2143.51 269.08L2143.74 267.09L2143.98 265.1L2144.22 263.11L2144.47 261.12L2144.71 259.13L2144.96 257.14L2145.21 255.16L2145.47 253.17L2145.72 251.18L2145.98 249.2L2146.25 247.21L2146.4 246.1L2146.54 245.23L2146.86 243.25L2147.19 241.27L2147.52 239.29L2147.86 237.32L2148.21 235.34L2148.56 233.36L2148.91 231.39L2149.27 229.41L2149.63 227.44L2149.99 225.46L2150.35 223.49L2150.72 221.51L2151.09 219.54L2151.45 217.56L2151.82 215.59L2152.19 213.61L2152.56 211.64L2152.92 209.67L2153.29 207.69L2153.6 206L2153.65 205.72L2154.02 203.74L2154.39 201.77L2154.75 199.79L2155.11 197.81L2155.46 195.84L2155.82 193.86L2156.18 191.88L2156.54 189.91L2156.91 187.93L2157.28 185.95L2157.65 183.98L2158.04 182.01L2158.42 180.04L2158.82 178.07L2159.23 176.11L2159.64 174.14L2160.07 172.18L2160.11 172L2160.6 170.24L2161.17 168.31L2161.76 166.38L2162.37 164.45L2162.99 162.52L2163.61 160.6L2164.25 158.67L2164.88 156.75L2165.5 154.82L2166.12 152.9L2166.4 152L2166.72 150.97L2167.3 149.03L2167.87 147.09L2168.44 145.15L2169 143.2L2169.56 141.26L2170.12 139.31L2170.68 137.37L2171.24 135.43L2171.81 133.49L2172.39 131.55L2172.98 129.62L2173.58 127.69L2174.2 125.77L2174.83 123.86L2175.49 121.95L2176.11 120.2L2176.18 120.06L2177.05 118.22L2177.98 116.4L2178.95 114.58L2179.93 112.77L2180.91 110.96L2181.87 109.14L2181.94 109L2182.78 107.29L2183.66 105.43L2184.58 103.6L2185.37 102.2L2185.64 101.87L2186.98 100.28L2188.4 98.68L2189.88 97.1L2191.41 95.55L2192.99 94.04L2194.61 92.58L2196.27 91.2L2197.94 89.91L2199.09 89.1L2199.72 88.82L2201.72 87.96L2203.8 87.12L2205.93 86.31L2208.1 85.55L2210.29 84.86L2212.49 84.24L2214.67 83.71L2215.2 83.6L2216.89 83.43L2219.12 83.22L2221.37 83.01L2223.61 82.81L2225.87 82.62L2228.13 82.44L2230.4 82.27L2232.67 82.11L2234.95 81.96L2237.24 81.82L2239.54 81.69L2241.85 81.58L2244.16 81.48L2246.48 81.39L2248.82 81.32L2249.49 81.3" transform="scale(0.875 1)" fill="none" stroke="#F4A36C" stroke-width="6.3" stroke-linecap="round" stroke-linejoin="round"/>
<path d="M1911.43 776.2L1913.75 776.11L1916.07 776L1918.38 775.87L1920.69 775.73L1922.99 775.58L1925.29 775.41L1927.58 775.23L1929.86 775.03L1932.14 774.82L1934.41 774.6L1936.68 774.38L1938.94 774.14L1941.2 773.89L1943.45 773.64L1945.7 773.38L1947.94 773.11L1950.17 772.84L1952.4 772.57L1954.51 772.3L1954.62 772.27L1956.78 771.74L1958.96 771.17L1961.13 770.55L1963.31 769.9L1965.49 769.21L1967.66 768.48L1969.83 767.72L1971.98 766.94L1974.11 766.13L1976.23 765.29L1978.33 764.44L1980.39 763.56L1982.43 762.67L1984.44 761.77L1986.4 760.85L1987.77 760.2L1988.27 759.85L1989.95 758.59L1991.61 757.25L1993.24 755.85L1994.84 754.39L1996.42 752.9L1997.97 751.39L1999.51 749.86L2001.02 748.33L2002.51 746.82L2002.63 746.7L2003.87 745.23L2005.2 743.61L2006.52 741.98L2007.83 740.33L2009.12 738.68L2010.4 737.01L2011.66 735.33L2012.9 733.64L2014.12 731.94L2015.32 730.24L2016.51 728.53L2017.49 727.1L2017.65 726.81L2018.66 725.03L2019.65 723.24L2020.62 721.43L2021.57 719.61L2022.51 717.79L2023.44 715.95L2024.36 714.12L2025.28 712.28L2026.21 710.45L2027.14 708.62L2028.08 706.8L2029.03 705L2029.04 704.98L2030.04 703.18L2031.06 701.38L2032.1 699.59L2033.13 697.8L2034.15 696.01L2035.14 694.21L2036.1 692.4L2036.8 691L2036.97 690.57L2037.71 688.69L2038.45 686.81L2039.18 684.93L2039.9 683.04L2040.61 681.15L2041.32 679.26L2042.02 677.36L2042.71 675.47L2043.4 673.57L2044.08 671.66L2044.76 669.76L2045.43 667.85L2046.1 665.94L2046.76 664.02L2047.42 662.11L2048.07 660.19L2048.72 658.27L2049.36 656.35L2050 654.43L2050.63 652.51L2051.27 650.58L2051.89 648.66L2052.52 646.73L2053.14 644.8L2053.76 642.87L2054.37 640.94L2054.98 639L2055.59 637.07L2056.2 635.14L2056.8 633.2L2057.41 631.26L2058.01 629.33L2058.61 627.39L2059.21 625.46L2059.8 623.52L2060.4 621.58L2060.99 619.64L2061.59 617.71L2062.18 615.77L2062.77 613.83L2063.37 611.9L2063.96 609.96L2064.55 608.03L2065.15 606.09L2065.74 604.16L2066.34 602.23L2066.93 600.29L2067.53 598.36L2068.13 596.43L2068.57 595L2068.71 594.5L2069.27 592.56L2069.82 590.62L2070.38 588.68L2070.93 586.74L2071.48 584.8L2072.02 582.86L2072.57 580.92L2073.12 578.98L2073.66 577.04L2074.2 575.09L2074.75 573.15L2075.29 571.21L2075.83 569.26L2076.36 567.32L2076.9 565.37L2077.44 563.43L2077.97 561.49L2078.5 559.54L2079.04 557.59L2079.57 555.65L2080.1 553.7L2080.62 551.76L2081.15 549.81L2081.68 547.86L2082.2 545.92L2082.73 543.97L2083.25 542.02L2083.77 540.07L2084.29 538.13L2084.81 536.18L2085.33 534.23L2085.85 532.28L2086.37 530.33L2086.89 528.38L2087.4 526.44L2087.92 524.49L2088.43 522.54L2088.94 520.59L2089.46 518.64L2089.97 516.69L2090.48 514.74L2090.99 512.79L2091.5 510.84L2092 508.89L2092.51 506.94L2093.02 504.99L2093.52 503.04L2094.03 501.09L2094.53 499.14L2095.04 497.19L2095.09 497L2095.51 495.23L2095.99 493.28L2096.45 491.32L2096.92 489.36L2097.39 487.4L2097.85 485.45L2098.31 483.49L2098.77 481.53L2099.23 479.57L2099.68 477.61L2100.14 475.65L2100.59 473.69L2101.04 471.73L2101.49 469.77L2101.94 467.81L2102.39 465.84L2102.84 463.88L2103.29 461.92L2103.73 459.96L2104.18 458L2104.62 456.03L2105.07 454.07L2105.51 452.11L2105.96 450.15L2106.4 448.19L2106.85 446.22L2107.29 444.26L2107.74 442.3L2108.18 440.34L2108.63 438.38L2109.07 436.41L2109.52 434.45L2109.97 432.49L2110.42 430.53L2110.87 428.57L2111.32 426.61L2111.77 424.65L2112.22 422.69L2112.68 420.73L2113.13 418.77L2113.59 416.81L2114.05 414.85L2114.51 412.89L2114.97 410.93L2115.44 408.97L2115.91 407.02L2116.38 405.06L2116.85 403.1L2117.32 401.15L2117.6 400L2117.81 399.19L2118.32 397.25L2118.84 395.3L2119.35 393.35L2119.87 391.4L2120.4 389.46L2120.92 387.51L2121.45 385.56L2121.98 383.62L2122.52 381.67L2123.05 379.73L2123.59 377.79L2124.13 375.84L2124.67 373.9L2125.21 371.96L2125.76 370.01L2126.3 368.07L2126.85 366.13L2127.4 364.18L2127.94 362.24L2128.49 360.3L2129.04 358.36L2129.59 356.42L2130.14 354.47L2130.69 352.53L2131.24 350.59L2131.79 348.65L2132.33 346.71L2132.88 344.76L2133.43 342.82L2133.98 340.88L2134.52 338.94L2135.07 336.99L2135.61 335.05L2136.15 333.11L2136.69 331.16L2137.23 329.22L2137.76 327.28L2138.3 325.33L2138.83 323.39L2139.36 321.44L2139.89 319.49L2140.41 317.55L2140.93 315.6L2141.45 313.65L2141.97 311.71L2142.48 309.76L2142.99 307.81L2143.49 305.86L2144 303.91L2144.23 303L2144.47 301.95L2144.92 299.99L2145.37 298.03L2145.8 296.07L2146.24 294.1L2146.66 292.14L2147.09 290.17L2147.51 288.2L2147.92 286.23L2148.34 284.26L2148.75 282.29L2149.16 280.32L2149.57 278.35L2149.98 276.38L2150.39 274.41L2150.8 272.44L2151.22 270.48L2151.64 268.51L2152.06 266.54L2152.48 264.58L2152.91 262.61L2153.35 260.65L2153.79 258.69L2154.23 256.73L2154.68 254.77L2155.15 252.81L2155.62 250.86L2156.09 248.91L2156.58 246.96L2156.8 246.1L2157.14 245.03L2157.75 243.11L2158.37 241.19L2159.01 239.27L2159.66 237.35L2160.31 235.44L2160.98 233.52L2161.65 231.61L2162.33 229.7L2163.03 227.79L2163.72 225.88L2164.43 223.98L2165.14 222.07L2165.85 220.17L2166.57 218.27L2167.3 216.37L2168.03 214.47L2168.76 212.58L2169.49 210.68L2170.23 208.79L2170.96 206.9L2171.31 206L2171.74 205.02L2172.56 203.15L2173.38 201.29L2174.22 199.43L2175.06 197.57L2175.91 195.71L2176.77 193.86L2177.63 192.01L2178.5 190.16L2179.37 188.31L2180.24 186.46L2181.12 184.61L2182 182.76L2182.89 180.92L2183.77 179.07L2184.65 177.23L2185.53 175.38L2185.71 175L2186.43 173.54L2187.34 171.71L2188.25 169.87L2189.16 168.04L2190.08 166.2L2191 164.37L2191.92 162.54L2192.85 160.71L2193.78 158.89L2194.72 157.06L2195.66 155.24L2196.62 153.43L2197.37 152L2197.59 151.62L2198.61 149.83L2199.64 148.04L2200.68 146.26L2201.73 144.48L2202.79 142.71L2203.85 140.94L2204.92 139.17L2205.99 137.41L2206.86 136L2207.08 135.65L2208.21 133.91L2209.33 132.16L2210.46 130.41L2211.6 128.67L2212.74 126.93L2213.91 125.21L2215.09 123.5L2216.3 121.81L2217.49 120.2L2217.53 120.15L2218.93 118.57L2220.35 117L2221.79 115.44L2223.26 113.89L2224.75 112.36L2226.26 110.84L2227.8 109.35L2229.35 107.88L2230.93 106.45L2232.34 105.2L2232.54 105.06L2234.31 103.83L2236.13 102.61L2237.97 101.4L2239.85 100.22L2241.75 99.08L2243.67 97.98L2245.6 96.93L2247.2 96.1L2247.56 95.96L2249.63 95.19L2251.73 94.43L2253.84 93.68L2255.97 92.95L2258.11 92.23L2260.27 91.53L2262.44 90.84L2264.62 90.18L2266.8 89.54L2268.99 88.92L2271.19 88.33L2273.38 87.75L2275.58 87.21L2277.77 86.69L2278.17 86.6L2280 86.32L2282.25 85.98L2284.5 85.65L2286.76 85.33L2289.03 85.04L2291.3 84.76L2293.57 84.5L2295.85 84.27L2297.71 84.1L2298.12 84.08L2300.39 83.98L2302.67 83.87L2304.95 83.77L2307.22 83.67L2309.5 83.57L2311.78 83.48L2314.06 83.38L2316.33 83.29L2318.61 83.2L2320.89 83.11L2323.17 83.02L2325.45 82.94L2327.73 82.85L2330.01 82.77L2332.3 82.69L2334.58 82.61L2336.86 82.53L2339.14 82.46L2341.43 82.39L2343.71 82.31L2345.99 82.25L2348.28 82.18L2350.56 82.11L2352.85 82.05L2355.14 81.99L2357.42 81.93L2359.71 81.88L2362 81.82L2364.29 81.77L2366.58 81.72L2368.87 81.68L2371.16 81.63L2373.45 81.59L2375.74 81.55L2378.03 81.51L2380.33 81.48L2382.62 81.44L2384.92 81.41L2385.94 81.4" transform="scale(0.875 1)" fill="none" stroke="#C789BC" stroke-width="6.3" stroke-linecap="round" stroke-linejoin="round"/>
<path d="M1794.63 776.3L1796.93 776.22L1799.23 776.12L1801.53 776.02L1803.82 775.9L1806.12 775.78L1808.41 775.64L1810.7 775.5L1812.99 775.35L1815.27 775.19L1817.56 775.02L1819.84 774.84L1822.12 774.66L1824.4 774.47L1826.68 774.27L1828.95 774.07L1831.23 773.86L1833.5 773.64L1835.77 773.42L1838.04 773.2L1840.31 772.97L1842.57 772.73L1844.84 772.5L1847.1 772.26L1849.36 772.01L1851.62 771.77L1853.88 771.52L1856.13 771.27L1858.39 771.01L1860.64 770.76L1862.89 770.5L1864.69 770.3L1865.14 770.22L1867.36 769.81L1869.59 769.38L1871.82 768.94L1874.06 768.49L1876.3 768.02L1878.54 767.53L1880.78 767.03L1883.02 766.52L1885.25 765.99L1887.48 765.45L1889.7 764.89L1891.92 764.32L1894.12 763.74L1896.32 763.15L1898.51 762.54L1900.68 761.92L1902.84 761.29L1904.98 760.65L1907.11 759.99L1909.22 759.33L1911.3 758.65L1911.77 758.5L1913.27 757.76L1915.19 756.75L1917.11 755.69L1919.01 754.59L1920.9 753.45L1922.78 752.27L1924.64 751.06L1926.48 749.83L1928.31 748.58L1930.12 747.31L1931.91 746.03L1933.67 744.75L1935.41 743.47L1936.46 742.7L1937.07 742.14L1938.6 740.69L1940.12 739.21L1941.61 737.71L1943.08 736.19L1944.54 734.65L1945.99 733.09L1947.42 731.52L1948.85 729.94L1950.27 728.36L1951.69 726.77L1953.1 725.19L1954.52 723.61L1955.94 722.04L1956.8 721.1L1957.36 720.47L1958.77 718.89L1960.18 717.31L1961.6 715.73L1963.02 714.15L1964.44 712.57L1965.87 710.99L1967.29 709.41L1968.7 707.83L1970.11 706.24L1971.51 704.65L1972.9 703.05L1974.27 701.45L1975.63 699.84L1976.97 698.23L1978.29 696.61L1979.59 694.98L1980.86 693.34L1982.11 691.69L1982.63 691L1983.23 689.98L1984.25 688.23L1985.27 686.46L1986.28 684.69L1987.28 682.92L1988.27 681.14L1989.26 679.36L1990.24 677.57L1991.21 675.77L1992.18 673.97L1993.14 672.17L1994.09 670.36L1995.04 668.54L1995.98 666.73L1996.92 664.91L1997.85 663.08L1998.77 661.25L1999.69 659.42L2000.61 657.59L2001.52 655.75L2002.42 653.91L2003.32 652.06L2004.21 650.21L2005.11 648.36L2005.99 646.51L2006.88 644.66L2007.76 642.8L2008.63 640.94L2009.5 639.08L2010.37 637.22L2011.24 635.36L2012.1 633.49L2012.97 631.63L2013.82 629.76L2014.68 627.89L2015.53 626.03L2016.39 624.16L2017.24 622.29L2018.09 620.42L2018.93 618.55L2019.78 616.68L2020.63 614.81L2021.47 612.94L2022.31 611.08L2023.16 609.21L2024 607.34L2024.84 605.48L2025.69 603.62L2026.53 601.75L2027.37 599.89L2028.22 598.03L2029.06 596.18L2029.6 595L2029.89 594.31L2030.66 592.44L2031.44 590.56L2032.21 588.68L2032.99 586.8L2033.75 584.92L2034.52 583.03L2035.29 581.15L2036.05 579.27L2036.81 577.38L2037.57 575.5L2038.32 573.61L2039.08 571.72L2039.83 569.83L2040.58 567.94L2041.33 566.05L2042.07 564.16L2042.82 562.27L2043.56 560.38L2044.3 558.49L2045.04 556.6L2045.78 554.7L2046.51 552.81L2047.25 550.91L2047.98 549.02L2048.72 547.12L2049.45 545.23L2050.18 543.33L2050.91 541.43L2051.63 539.54L2052.36 537.64L2053.09 535.74L2053.81 533.84L2054.54 531.95L2055.26 530.05L2055.98 528.15L2056.7 526.25L2057.42 524.35L2058.15 522.45L2058.87 520.55L2059.58 518.65L2060.3 516.75L2061.02 514.86L2061.74 512.96L2062.46 511.06L2063.18 509.16L2063.89 507.26L2064.61 505.36L2065.33 503.46L2066.05 501.56L2066.77 499.66L2067.48 497.76L2067.77 497L2068.19 495.86L2068.88 493.95L2069.57 492.05L2070.25 490.14L2070.94 488.23L2071.62 486.32L2072.3 484.42L2072.98 482.51L2073.66 480.6L2074.34 478.69L2075.01 476.78L2075.69 474.86L2076.36 472.95L2077.03 471.04L2077.7 469.13L2078.37 467.22L2079.04 465.3L2079.71 463.39L2080.38 461.48L2081.05 459.57L2081.71 457.65L2082.38 455.74L2083.05 453.83L2083.71 451.91L2084.38 450L2085.05 448.09L2085.71 446.17L2086.38 444.26L2087.04 442.34L2087.71 440.43L2088.38 438.52L2089.05 436.61L2089.71 434.69L2090.38 432.78L2091.05 430.87L2091.72 428.96L2092.39 427.04L2093.07 425.13L2093.74 423.22L2094.42 421.31L2095.09 419.4L2095.77 417.49L2096.45 415.58L2097.13 413.67L2097.81 411.76L2098.49 409.85L2099.18 407.95L2099.87 406.04L2100.56 404.13L2101.25 402.23L2101.94 400.32L2102.06 400L2102.66 398.42L2103.38 396.53L2104.11 394.63L2104.84 392.74L2105.57 390.84L2106.3 388.95L2107.04 387.05L2107.77 385.16L2108.51 383.27L2109.25 381.37L2109.99 379.48L2110.73 377.59L2111.47 375.7L2112.21 373.81L2112.96 371.92L2113.7 370.03L2114.45 368.14L2115.2 366.25L2115.94 364.36L2116.69 362.47L2117.44 360.58L2118.19 358.69L2118.94 356.8L2119.69 354.91L2120.45 353.02L2121.2 351.13L2121.95 349.24L2122.7 347.35L2123.45 345.46L2124.2 343.57L2124.96 341.69L2125.71 339.8L2126.46 337.91L2127.21 336.02L2127.96 334.13L2128.72 332.24L2129.47 330.35L2130.22 328.46L2130.96 326.57L2131.71 324.68L2132.46 322.79L2133.21 320.9L2133.96 319.01L2134.7 317.12L2135.45 315.23L2136.19 313.34L2136.93 311.45L2137.67 309.56L2138.41 307.66L2139.15 305.77L2139.89 303.88L2140.23 303L2140.62 301.98L2141.34 300.08L2142.05 298.18L2142.76 296.28L2143.47 294.37L2144.17 292.47L2144.87 290.56L2145.57 288.65L2146.26 286.75L2146.96 284.84L2147.65 282.93L2148.34 281.02L2149.04 279.11L2149.73 277.2L2150.43 275.29L2151.12 273.38L2151.82 271.48L2152.52 269.57L2153.23 267.67L2153.94 265.76L2154.65 263.86L2155.37 261.96L2156.09 260.07L2156.82 258.17L2157.56 256.28L2158.3 254.4L2159.05 252.51L2159.81 250.63L2160.57 248.75L2161.35 246.88L2162.13 245.01L2162.51 244.1L2162.98 243.16L2163.91 241.34L2164.84 239.52L2165.8 237.71L2166.76 235.9L2167.74 234.1L2168.73 232.3L2169.73 230.5L2170.74 228.7L2171.75 226.9L2172.77 225.11L2173.79 223.32L2174.82 221.53L2175.85 219.74L2176.88 217.95L2177.91 216.16L2178.93 214.37L2179.96 212.58L2180.97 210.78L2181.99 208.99L2182.99 207.19L2183.66 206L2183.99 205.39L2184.98 203.59L2185.96 201.78L2186.93 199.96L2187.9 198.14L2188.87 196.33L2189.84 194.51L2190.82 192.7L2191.8 190.9L2192.8 189.09L2193.81 187.3L2194.83 185.52L2195.87 183.75L2196.8 182.2L2196.94 181.99L2198.15 180.31L2199.37 178.62L2200.6 176.95L2201.85 175.27L2203.11 173.61L2204.39 171.94L2205.67 170.29L2206.97 168.63L2208.28 166.99L2209.6 165.34L2210.92 163.71L2212.26 162.08L2213.6 160.45L2214.94 158.83L2216.3 157.21L2217.65 155.6L2219.01 154L2220.38 152.4L2221.14 151.5L2221.78 150.83L2223.24 149.3L2224.71 147.76L2226.19 146.24L2227.68 144.71L2229.17 143.2L2230.67 141.68L2232.19 140.17L2233.71 138.67L2235.24 137.18L2236.77 135.69L2238.32 134.22L2239.87 132.75L2241.44 131.29L2243.01 129.84L2244.59 128.41L2246.06 127.1L2246.19 127L2247.89 125.67L2249.6 124.35L2251.33 123.04L2253.07 121.74L2254.83 120.45L2256.59 119.17L2258.37 117.9L2260.16 116.64L2261.95 115.4L2263.76 114.18L2265.57 112.97L2266.74 112.2L2267.42 111.81L2269.33 110.72L2271.25 109.63L2273.19 108.54L2275.13 107.46L2277.08 106.39L2279.04 105.33L2281.01 104.3L2282.99 103.28L2284.99 102.29L2286.98 101.33L2288.99 100.41L2291.01 99.52L2292 99.1L2293.08 98.76L2295.22 98.11L2297.36 97.47L2299.51 96.83L2301.67 96.21L2303.85 95.59L2306.03 94.98L2308.21 94.38L2310.41 93.8L2312.61 93.22L2314.82 92.65L2317.03 92.1L2319.25 91.55L2321.47 91.02L2323.69 90.5L2325.92 90L2328.14 89.5L2330.37 89.02L2332.6 88.56L2334.83 88.11L2337.05 87.67L2339.28 87.25L2340.11 87.1L2341.52 86.93L2343.77 86.66L2346.03 86.4L2348.3 86.14L2350.57 85.9L2352.84 85.66L2355.11 85.42L2357.39 85.2L2359.66 84.98L2361.94 84.77L2364.22 84.56L2366.5 84.37L2368.77 84.18L2371.05 83.99L2372.23 83.9L2373.33 83.84L2375.61 83.71L2377.89 83.59L2380.17 83.47L2382.45 83.36L2384.73 83.25L2387.02 83.14L2389.3 83.04L2391.58 82.94L2393.87 82.85L2396.15 82.75L2398.44 82.66L2400 82.6L2400.72 82.58L2403 82.51L2405.29 82.45L2407.57 82.38L2409.86 82.32L2412.14 82.26L2414.43 82.2L2416.71 82.14L2419 82.08L2421.28 82.02L2423.57 81.97L2425.85 81.92L2428.14 81.87L2430.42 81.82L2432.71 81.77L2434.99 81.73L2436.57 81.7L2437.28 81.69L2439.56 81.66L2441.85 81.64L2444.13 81.61L2446.42 81.58L2448.7 81.56L2450.99 81.53L2453.27 81.51L2455.56 81.48L2457.85 81.46L2460.13 81.44L2462.42 81.42L2464.7 81.4L2466.99 81.38L2469.27 81.36L2471.56 81.34L2473.85 81.33L2476.13 81.32L2478.42 81.31L2480 81.3L2480.7 81.3L2482.99 81.3L2485.27 81.3L2487.56 81.3L2489.84 81.3L2492.13 81.3L2494.42 81.3L2496.7 81.3L2498.99 81.3L2501.27 81.3L2503.56 81.3L2505.84 81.3L2508.13 81.3L2510.42 81.3L2512.7 81.3L2514.99 81.3L2517.27 81.3L2519.56 81.3L2521.84 81.3L2524.13 81.3L2526.42 81.3L2528.7 81.3L2529.14 81.3" transform="scale(0.875 1)" fill="none" stroke="#3B3570" stroke-width="6.3" stroke-linecap="round" stroke-linejoin="round"/>
<path d="M1677.6 776.3L1679.9 776.24L1682.21 776.18L1684.51 776.12L1686.81 776.05L1689.11 775.97L1691.4 775.89L1693.7 775.8L1696 775.71L1698.29 775.62L1700.58 775.52L1702.87 775.42L1705.16 775.31L1707.45 775.2L1709.74 775.08L1712.03 774.96L1714.32 774.84L1716.6 774.71L1718.88 774.58L1721.17 774.45L1723.45 774.31L1725.73 774.17L1728.01 774.03L1730.29 773.88L1732.56 773.73L1734.84 773.58L1737.11 773.43L1739.39 773.27L1741.66 773.11L1743.93 772.95L1746.2 772.78L1748.47 772.62L1750.74 772.45L1753.01 772.28L1755.27 772.11L1757.54 771.93L1759.8 771.75L1762.07 771.58L1764.33 771.4L1766.59 771.22L1768.85 771.04L1771.11 770.85L1771.77 770.8L1773.35 770.56L1775.59 770.21L1777.83 769.85L1780.08 769.48L1782.32 769.09L1784.57 768.69L1786.82 768.27L1789.07 767.85L1791.33 767.41L1793.58 766.96L1795.83 766.5L1798.07 766.03L1800.32 765.54L1802.56 765.05L1804.8 764.54L1807.04 764.03L1809.27 763.51L1811.49 762.97L1813.71 762.43L1815.93 761.88L1818.13 761.32L1820.33 760.75L1822.52 760.17L1824.69 759.58L1826.86 758.99L1829.02 758.39L1831.17 757.78L1833.31 757.17L1835.43 756.55L1837.54 755.92L1838.29 755.7L1839.55 755.12L1841.51 754.19L1843.45 753.21L1845.38 752.19L1847.31 751.14L1849.22 750.05L1851.13 748.94L1853.02 747.8L1854.91 746.64L1856.79 745.46L1858.66 744.27L1860.52 743.07L1862.38 741.86L1864.24 740.64L1866.08 739.42L1867.93 738.21L1869.77 737L1871.6 735.8L1872.69 735.1L1873.4 734.58L1875.16 733.32L1876.92 732.04L1878.68 730.76L1880.43 729.47L1882.18 728.18L1883.92 726.87L1885.66 725.56L1887.39 724.25L1889.12 722.92L1890.83 721.59L1892.54 720.25L1894.23 718.91L1895.92 717.55L1897.59 716.19L1899.25 714.82L1900.9 713.45L1902.54 712.06L1903.66 711.1L1904.12 710.64L1905.6 709.13L1907.07 707.61L1908.51 706.06L1909.94 704.5L1911.36 702.93L1912.77 701.35L1914.18 699.77L1915.59 698.19L1917.01 696.61L1918.43 695.04L1919.87 693.48L1921.26 692L1921.32 691.94L1922.83 690.43L1924.36 688.94L1925.91 687.46L1927.46 685.98L1929.01 684.5L1930.55 683.01L1932.05 681.51L1933.52 679.99L1934.95 678.45L1935.09 678.3L1936.18 676.8L1937.38 675.13L1938.58 673.45L1939.76 671.76L1940.94 670.07L1942.1 668.37L1943.26 666.67L1944.41 664.95L1945.56 663.23L1946.69 661.51L1947.82 659.78L1948.94 658.04L1950.05 656.3L1951.16 654.55L1952.26 652.8L1953.36 651.04L1954.45 649.28L1955.53 647.52L1956.61 645.75L1957.68 643.98L1958.75 642.2L1959.81 640.42L1960.87 638.64L1961.93 636.86L1962.98 635.07L1964.03 633.28L1965.07 631.49L1966.12 629.7L1967.16 627.91L1968.19 626.11L1969.23 624.31L1970.26 622.52L1971.29 620.72L1972.32 618.92L1973.35 617.12L1974.38 615.32L1975.41 613.52L1976.43 611.73L1977.46 609.93L1978.49 608.13L1979.51 606.34L1980.54 604.55L1981.57 602.75L1982.6 600.97L1983.63 599.18L1984.67 597.39L1985.7 595.61L1986.06 595L1986.7 593.82L1987.68 592.01L1988.66 590.21L1989.64 588.4L1990.61 586.59L1991.59 584.78L1992.56 582.97L1993.53 581.16L1994.5 579.35L1995.46 577.54L1996.43 575.73L1997.39 573.92L1998.35 572.1L1999.31 570.29L2000.26 568.47L2001.22 566.65L2002.17 564.84L2003.13 563.02L2004.08 561.2L2005.03 559.38L2005.98 557.56L2006.93 555.74L2007.87 553.92L2008.82 552.1L2009.76 550.27L2010.7 548.45L2011.64 546.63L2012.58 544.8L2013.52 542.98L2014.46 541.15L2015.4 539.33L2016.33 537.5L2017.27 535.68L2018.2 533.85L2019.14 532.03L2020.07 530.2L2021 528.37L2021.93 526.54L2022.86 524.72L2023.79 522.89L2024.72 521.06L2025.65 519.23L2026.58 517.4L2027.51 515.58L2028.44 513.75L2029.36 511.92L2030.29 510.09L2031.22 508.26L2032.14 506.43L2033.07 504.6L2033.99 502.77L2034.92 500.95L2035.84 499.12L2036.77 497.29L2036.91 497L2037.67 495.45L2038.57 493.61L2039.46 491.77L2040.35 489.93L2041.25 488.09L2042.13 486.25L2043.02 484.41L2043.91 482.56L2044.79 480.72L2045.68 478.87L2046.56 477.03L2047.44 475.18L2048.32 473.34L2049.2 471.49L2050.07 469.64L2050.95 467.8L2051.83 465.95L2052.7 464.1L2053.57 462.25L2054.45 460.4L2055.32 458.56L2056.19 456.71L2057.07 454.86L2057.94 453.01L2058.81 451.16L2059.68 449.31L2060.55 447.46L2061.42 445.61L2062.3 443.76L2063.17 441.91L2064.04 440.06L2064.91 438.22L2065.79 436.37L2066.66 434.52L2067.53 432.67L2068.41 430.82L2069.28 428.97L2070.16 427.13L2071.04 425.28L2071.91 423.43L2072.79 421.59L2073.67 419.74L2074.56 417.9L2075.44 416.05L2076.32 414.21L2077.21 412.36L2078.1 410.52L2078.98 408.68L2079.87 406.84L2080.77 405L2081.66 403.16L2082.56 401.32L2083.2 400L2083.46 399.48L2084.39 397.65L2085.31 395.82L2086.24 394L2087.17 392.17L2088.1 390.34L2089.03 388.52L2089.96 386.69L2090.9 384.87L2091.83 383.04L2092.77 381.22L2093.71 379.39L2094.65 377.57L2095.59 375.75L2096.53 373.92L2097.47 372.1L2098.41 370.28L2099.36 368.46L2100.3 366.64L2101.25 364.82L2102.19 362.99L2103.14 361.17L2104.08 359.35L2105.03 357.53L2105.98 355.71L2106.93 353.89L2107.87 352.07L2108.82 350.25L2109.77 348.43L2110.72 346.61L2111.67 344.79L2112.62 342.97L2113.57 341.15L2114.52 339.34L2115.47 337.52L2116.41 335.7L2117.36 333.88L2118.31 332.06L2119.26 330.24L2120.21 328.42L2121.16 326.6L2122.1 324.78L2123.05 322.96L2124 321.13L2124.94 319.31L2125.89 317.49L2126.83 315.67L2127.77 313.85L2128.72 312.03L2129.66 310.2L2130.6 308.38L2131.54 306.56L2132.48 304.74L2133.37 303L2133.42 302.91L2134.35 301.08L2135.27 299.25L2136.19 297.42L2137.1 295.58L2138.01 293.74L2138.92 291.9L2139.82 290.06L2140.72 288.22L2141.63 286.38L2142.53 284.53L2143.43 282.69L2144.33 280.85L2145.23 279L2146.14 277.16L2147.04 275.32L2147.95 273.49L2148.87 271.65L2149.78 269.82L2150.71 267.99L2151.63 266.16L2152.57 264.33L2153.51 262.51L2154.46 260.7L2155.41 258.89L2156.38 257.08L2157.35 255.28L2158.34 253.48L2159.33 251.69L2160.23 250.1L2160.35 249.92L2161.49 248.2L2162.65 246.48L2163.81 244.77L2164.99 243.07L2166.18 241.36L2167.38 239.66L2168.59 237.97L2169.81 236.28L2171.03 234.59L2172.27 232.9L2173.51 231.22L2174.76 229.54L2176.01 227.86L2177.27 226.19L2178.53 224.51L2179.8 222.84L2181.08 221.18L2182.35 219.51L2183.63 217.85L2184.91 216.19L2186.19 214.52L2187.48 212.87L2188.76 211.21L2190.05 209.55L2191.33 207.9L2192.61 206.24L2192.8 206L2193.94 204.62L2195.28 203L2196.61 201.37L2197.95 199.75L2199.29 198.13L2200.64 196.5L2201.98 194.88L2203.33 193.26L2204.68 191.64L2206.04 190.02L2207.4 188.41L2208.77 186.8L2210.14 185.19L2211.52 183.59L2212.9 182L2214.29 180.41L2215.69 178.82L2217.09 177.25L2218.51 175.68L2219.93 174.12L2221.36 172.57L2222.8 171.02L2224.25 169.49L2225.49 168.2L2225.73 167.98L2227.32 166.56L2228.93 165.16L2230.57 163.77L2232.22 162.38L2233.89 161.01L2235.56 159.65L2237.24 158.28L2238.92 156.92L2240.6 155.56L2242.28 154.19L2243.94 152.81L2244.91 152L2245.59 151.43L2247.22 150.02L2248.84 148.61L2250.46 147.19L2252.08 145.77L2253.7 144.37L2255.34 142.97L2257 141.6L2258.68 140.25L2258.74 140.2L2260.46 139.01L2262.25 137.79L2264.06 136.57L2265.88 135.36L2267.71 134.16L2269.55 132.97L2271.39 131.79L2273.25 130.61L2275.11 129.44L2276.98 128.28L2278.86 127.13L2280.74 125.98L2282.62 124.84L2284.51 123.71L2286.4 122.59L2288.29 121.47L2290.19 120.36L2290.29 120.3L2292.13 119.32L2294.09 118.29L2296.05 117.25L2298.01 116.22L2299.98 115.19L2301.96 114.16L2303.94 113.14L2305.92 112.14L2307.91 111.14L2309.91 110.15L2311.91 109.18L2313.92 108.23L2315.94 107.29L2317.96 106.37L2319.99 105.47L2322.03 104.6L2322.97 104.2L2324.11 103.82L2326.23 103.12L2328.37 102.42L2330.52 101.74L2332.67 101.06L2334.83 100.4L2337 99.74L2339.17 99.09L2341.35 98.46L2343.53 97.84L2345.72 97.24L2347.91 96.64L2350.11 96.07L2352.3 95.51L2354.49 94.96L2356.69 94.43L2357.26 94.3L2358.91 94.01L2361.14 93.62L2363.38 93.24L2365.62 92.86L2367.87 92.49L2370.11 92.13L2372.37 91.77L2374.62 91.42L2376.88 91.08L2379.13 90.74L2381.39 90.41L2383.66 90.09L2385.92 89.77L2388.18 89.47L2390.44 89.17L2392.71 88.88L2394.97 88.6L2397.23 88.32L2399.5 88.06L2400 88L2401.77 87.86L2404.04 87.67L2406.32 87.5L2408.59 87.33L2410.87 87.16L2413.15 87L2415.43 86.85L2417.71 86.69L2419.99 86.54L2422.27 86.39L2424.55 86.25L2426.83 86.1L2429.11 85.96L2431.39 85.82L2433.67 85.68L2435.95 85.54L2436.57 85.5L2438.23 85.41L2440.52 85.29L2442.8 85.17L2445.08 85.05L2447.36 84.93L2449.64 84.82L2451.92 84.7L2454.21 84.59L2456.49 84.48L2458.77 84.37L2461.05 84.26L2463.34 84.15L2465.62 84.04L2467.9 83.94L2470.18 83.83L2472.47 83.73L2473.14 83.7L2474.75 83.64L2477.03 83.55L2479.32 83.46L2481.6 83.37L2483.88 83.29L2486.17 83.2L2488.45 83.12L2490.73 83.04L2493.02 82.95L2495.3 82.87L2497.59 82.79L2499.87 82.72L2502.15 82.64L2504.44 82.57L2506.72 82.49L2509.01 82.42L2509.71 82.4L2511.29 82.36L2513.58 82.3L2515.86 82.25L2518.15 82.19L2520.43 82.14L2522.72 82.08L2525 82.03L2527.29 81.97L2529.57 81.92L2531.86 81.87L2534.14 81.82L2536.43 81.78L2538.71 81.73L2541 81.69L2543.28 81.65L2545.57 81.61L2546.29 81.6L2547.85 81.58L2550.14 81.56L2552.42 81.54L2554.71 81.51L2556.99 81.49L2559.28 81.47L2561.57 81.44L2563.85 81.42L2566.14 81.4L2568.42 81.38L2570.71 81.37L2572.99 81.35L2575.28 81.34L2577.57 81.32L2579.85 81.31L2582.14 81.3L2582.86 81.3L2584.42 81.3L2586.71 81.3L2588.99 81.3L2591.28 81.3L2593.56 81.3L2595.85 81.3L2598.14 81.3L2600.42 81.3L2602.71 81.3L2604.99 81.3L2607.28 81.3L2609.56 81.3L2611.85 81.3L2614.14 81.3L2616.42 81.3L2618.71 81.3L2620.99 81.3L2623.28 81.3L2625.56 81.3L2627.85 81.3L2630.14 81.3L2632.42 81.3L2634.71 81.3L2636.99 81.3L2639.28 81.3L2641.56 81.3L2643.85 81.3L2646.14 81.3L2648.42 81.3L2650.71 81.3L2652.99 81.3L2655.28 81.3L2657.56 81.3L2659.85 81.3L2662.14 81.3L2664.42 81.3L2666.71 81.3L2668.99 81.3L2671.28 81.3L2673.57 81.3L2675.85 81.3L2678.14 81.3L2680.34 81.3" transform="scale(0.875 1)" fill="none" stroke="#5B6EF5" stroke-width="6.3" stroke-linecap="round" stroke-linejoin="round"/>
<path d="M1422.5 9.9H2459.6V13.9H1422.5ZM1422.5 843.4H2459.6V847.3H1422.5ZM1422.5 9.9H1426V847.3H1422.5ZM2456 9.9H2459.6V847.3H2456ZM1595 829.9H1598.6V843.9H1595ZM1767.3 829.9H1770.9V843.9H1767.3ZM1939.6 829.9H1943.2V843.9H1939.6ZM2111.9 829.9H2115.5V843.9H2111.9ZM2284.2 829.9H2287.8V843.9H2284.2ZM1508.85 837.4H1512.45V843.9H1508.85ZM1681.15 837.4H1684.75V843.9H1681.15ZM1853.45 837.4H1857.05V843.9H1853.45ZM2025.75 837.4H2029.35V843.9H2025.75ZM2198.05 837.4H2201.65V843.9H2198.05ZM2370.35 837.4H2373.95V843.9H2370.35ZM1425.5 774.3H1440.1V777.9H1425.5ZM1425.5 635.34H1440.1V638.94H1425.5ZM1425.5 496.38H1440.1V499.98H1425.5ZM1425.5 357.42H1440.1V361.02H1425.5ZM1425.5 218.46H1440.1V222.06H1425.5ZM1425.5 79.5H1440.1V83.1H1425.5ZM1425.5 704.82H1432.6V708.42H1425.5ZM1425.5 565.86H1432.6V569.46H1425.5ZM1425.5 426.9H1432.6V430.5H1425.5ZM1425.5 287.94H1432.6V291.54H1425.5ZM1425.5 148.98H1432.6V152.58H1425.5Z" fill="#000"/>
<text transform="translate(1424.6 891) scale(0.95 1)" font-size="37.5" text-anchor="middle" letter-spacing="-0.15">1.10</text>
<text transform="translate(1596.9 891) scale(0.95 1)" font-size="37.5" text-anchor="middle" letter-spacing="-0.15">1.15</text>
<text transform="translate(1769.2 891) scale(0.95 1)" font-size="37.5" text-anchor="middle" letter-spacing="-0.15">1.20</text>
<text transform="translate(1941.5 891) scale(0.95 1)" font-size="37.5" text-anchor="middle" letter-spacing="-0.15">1.25</text>
<text transform="translate(2113.8 891) scale(0.95 1)" font-size="37.5" text-anchor="middle" letter-spacing="-0.15">1.30</text>
<text transform="translate(2286.1 891) scale(0.95 1)" font-size="37.5" text-anchor="middle" letter-spacing="-0.15">1.35</text>
<text transform="translate(2458.4 891) scale(0.95 1)" font-size="37.5" text-anchor="middle" letter-spacing="-0.15">1.40</text>
<text transform="translate(1406 786.8) scale(0.95 1)" font-size="37.5" text-anchor="end" letter-spacing="-0.15">0.0</text>
<text transform="translate(1406 647.84) scale(0.95 1)" font-size="37.5" text-anchor="end" letter-spacing="-0.15">0.2</text>
<text transform="translate(1406 508.88) scale(0.95 1)" font-size="37.5" text-anchor="end" letter-spacing="-0.15">0.4</text>
<text transform="translate(1406 369.92) scale(0.95 1)" font-size="37.5" text-anchor="end" letter-spacing="-0.15">0.6</text>
<text transform="translate(1406 230.96) scale(0.95 1)" font-size="37.5" text-anchor="end" letter-spacing="-0.15">0.8</text>
<text transform="translate(1406 92) scale(0.95 1)" font-size="37.5" text-anchor="end" letter-spacing="-0.15">1.0</text>
<text transform="translate(1936.2 949.6)" font-size="37.85" text-anchor="middle">Safety factor</text>
<text transform="translate(1335.8 419.5) rotate(-90)" font-size="37.85" text-anchor="middle">Cumulative distribution curve</text>
<text transform="translate(2400.2 56.4)" font-size="43.4" text-anchor="start">(b)</text>
<path d="M1661.49 45.3L1759.89 45.3" transform="scale(0.875 1)" fill="none" stroke="#7596BB" stroke-width="6.2" stroke-linecap="round" stroke-linejoin="round"/>
<text transform="translate(1561.4 61.2) scale(0.99 1)" font-size="43.6"><tspan font-style="italic">COV</tspan><tspan font-size="28.5" dx="-0.3" dy="11.3">ϕ</tspan><tspan dx="-1.4" dy="-11.3">=</tspan><tspan dx="0.0">0.05</tspan></text>
<path d="M1661.49 108.1L1759.89 108.1" transform="scale(0.875 1)" fill="none" stroke="#F4A36C" stroke-width="6.2" stroke-linecap="round" stroke-linejoin="round"/>
<text transform="translate(1561.4 124) scale(0.99 1)" font-size="43.6"><tspan font-style="italic">COV</tspan><tspan font-size="28.5" dx="-0.3" dy="11.3">ϕ</tspan><tspan dx="-1.4" dy="-11.3">=</tspan><tspan dx="0.0">0.1</tspan></text>
<path d="M1661.49 170.9L1759.89 170.9" transform="scale(0.875 1)" fill="none" stroke="#C789BC" stroke-width="6.2" stroke-linecap="round" stroke-linejoin="round"/>
<text transform="translate(1561.4 186.8) scale(0.99 1)" font-size="43.6"><tspan font-style="italic">COV</tspan><tspan font-size="28.5" dx="-0.3" dy="11.3">ϕ</tspan><tspan dx="-1.4" dy="-11.3">=</tspan><tspan dx="0.0">0.2</tspan></text>
<path d="M1661.49 233.7L1759.89 233.7" transform="scale(0.875 1)" fill="none" stroke="#3B3570" stroke-width="6.2" stroke-linecap="round" stroke-linejoin="round"/>
<text transform="translate(1561.4 249.6) scale(0.99 1)" font-size="43.6"><tspan font-style="italic">COV</tspan><tspan font-size="28.5" dx="-0.3" dy="11.3">ϕ</tspan><tspan dx="-1.4" dy="-11.3">=</tspan><tspan dx="0.0">0.3</tspan></text>
<path d="M1661.49 296.5L1759.89 296.5" transform="scale(0.875 1)" fill="none" stroke="#5B6EF5" stroke-width="6.2" stroke-linecap="round" stroke-linejoin="round"/>
<text transform="translate(1561.4 312.4) scale(0.99 1)" font-size="43.6"><tspan font-style="italic">COV</tspan><tspan font-size="28.5" dx="-0.3" dy="11.3">ϕ</tspan><tspan dx="-1.4" dy="-11.3">=</tspan><tspan dx="0.0">0.4</tspan></text>
</g>
</svg>
</body></html>
